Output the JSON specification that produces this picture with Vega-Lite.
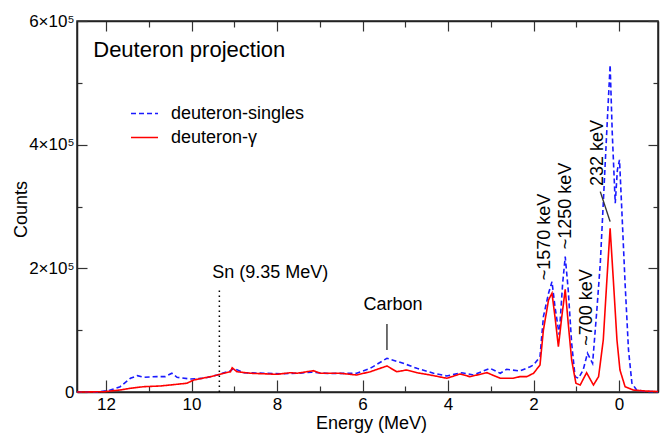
{
  "$schema": "https://vega.github.io/schema/vega-lite/v6.json",
  "width": 581,
  "height": 371,
  "autosize": {"type": "none"},
  "padding": {"left": 77, "top": 21, "right": 2, "bottom": 42},
  "background": "white",
  "config": {
    "view": {"stroke": "#222", "strokeWidth": 1.5},
    "font": "Liberation Sans",
    "axis": {"domainColor": "#222", "domainWidth": 1.5, "tickColor": "#333", "tickWidth": 1.2, "grid": false,
      "labelFont": "Liberation Sans", "labelFontSize": 17, "labelColor": "#000",
      "titleFont": "Liberation Sans", "titleFontSize": 18, "titleFontWeight": "normal", "titleColor": "#000"}
  },
  "datasets": {
    "spec": [
      {"E": 12.68, "c": 0, "s": "deuteron-singles"},
      {"E": 12.21, "c": 0, "s": "deuteron-singles"},
      {"E": 11.90, "c": 3200, "s": "deuteron-singles"},
      {"E": 11.67, "c": 8600, "s": "deuteron-singles"},
      {"E": 11.43, "c": 22200, "s": "deuteron-singles"},
      {"E": 11.27, "c": 26400, "s": "deuteron-singles"},
      {"E": 11.12, "c": 23800, "s": "deuteron-singles"},
      {"E": 10.95, "c": 24500, "s": "deuteron-singles"},
      {"E": 10.81, "c": 24800, "s": "deuteron-singles"},
      {"E": 10.62, "c": 24800, "s": "deuteron-singles"},
      {"E": 10.46, "c": 30300, "s": "deuteron-singles"},
      {"E": 10.34, "c": 23800, "s": "deuteron-singles"},
      {"E": 10.03, "c": 21000, "s": "deuteron-singles"},
      {"E": 9.71, "c": 22200, "s": "deuteron-singles"},
      {"E": 9.40, "c": 27500, "s": "deuteron-singles"},
      {"E": 9.09, "c": 34500, "s": "deuteron-singles"},
      {"E": 9.01, "c": 38300, "s": "deuteron-singles"},
      {"E": 8.78, "c": 31200, "s": "deuteron-singles"},
      {"E": 8.31, "c": 30300, "s": "deuteron-singles"},
      {"E": 7.90, "c": 29500, "s": "deuteron-singles"},
      {"E": 7.53, "c": 30300, "s": "deuteron-singles"},
      {"E": 7.20, "c": 32000, "s": "deuteron-singles"},
      {"E": 6.80, "c": 30000, "s": "deuteron-singles"},
      {"E": 6.14, "c": 30300, "s": "deuteron-singles"},
      {"E": 5.82, "c": 38300, "s": "deuteron-singles"},
      {"E": 5.43, "c": 54500, "s": "deuteron-singles"},
      {"E": 5.05, "c": 46400, "s": "deuteron-singles"},
      {"E": 4.73, "c": 38300, "s": "deuteron-singles"},
      {"E": 4.34, "c": 30300, "s": "deuteron-singles"},
      {"E": 4.03, "c": 25900, "s": "deuteron-singles"},
      {"E": 3.68, "c": 31200, "s": "deuteron-singles"},
      {"E": 3.41, "c": 27500, "s": "deuteron-singles"},
      {"E": 3.02, "c": 38300, "s": "deuteron-singles"},
      {"E": 2.78, "c": 30300, "s": "deuteron-singles"},
      {"E": 2.63, "c": 36700, "s": "deuteron-singles"},
      {"E": 2.32, "c": 34000, "s": "deuteron-singles"},
      {"E": 2.08, "c": 40900, "s": "deuteron-singles"},
      {"E": 2.00, "c": 43700, "s": "deuteron-singles"},
      {"E": 1.85, "c": 57100, "s": "deuteron-singles"},
      {"E": 1.77, "c": 121800, "s": "deuteron-singles"},
      {"E": 1.65, "c": 159700, "s": "deuteron-singles"},
      {"E": 1.57, "c": 178500, "s": "deuteron-singles"},
      {"E": 1.50, "c": 138000, "s": "deuteron-singles"},
      {"E": 1.40, "c": 92200, "s": "deuteron-singles"},
      {"E": 1.32, "c": 175900, "s": "deuteron-singles"},
      {"E": 1.26, "c": 218900, "s": "deuteron-singles"},
      {"E": 1.19, "c": 165000, "s": "deuteron-singles"},
      {"E": 1.11, "c": 79300, "s": "deuteron-singles"},
      {"E": 1.03, "c": 24800, "s": "deuteron-singles"},
      {"E": 0.95, "c": 22200, "s": "deuteron-singles"},
      {"E": 0.84, "c": 35600, "s": "deuteron-singles"},
      {"E": 0.74, "c": 62600, "s": "deuteron-singles"},
      {"E": 0.62, "c": 46400, "s": "deuteron-singles"},
      {"E": 0.52, "c": 132700, "s": "deuteron-singles"},
      {"E": 0.44, "c": 208200, "s": "deuteron-singles"},
      {"E": 0.37, "c": 305300, "s": "deuteron-singles"},
      {"E": 0.29, "c": 419100, "s": "deuteron-singles"},
      {"E": 0.21, "c": 529100, "s": "deuteron-singles"},
      {"E": 0.16, "c": 419100, "s": "deuteron-singles"},
      {"E": 0.09, "c": 305300, "s": "deuteron-singles"},
      {"E": 0.04, "c": 359200, "s": "deuteron-singles"},
      {"E": -0.01, "c": 375400, "s": "deuteron-singles"},
      {"E": -0.06, "c": 299800, "s": "deuteron-singles"},
      {"E": -0.14, "c": 175900, "s": "deuteron-singles"},
      {"E": -0.22, "c": 68000, "s": "deuteron-singles"},
      {"E": -0.30, "c": 14100, "s": "deuteron-singles"},
      {"E": -0.41, "c": 3200, "s": "deuteron-singles"},
      {"E": -0.61, "c": 800, "s": "deuteron-singles"},
      {"E": -0.91, "c": 500, "s": "deuteron-singles"},
      {"E": 12.68, "c": 0, "s": "deuteron-γ"},
      {"E": 12.52, "c": 0, "s": "deuteron-γ"},
      {"E": 12.05, "c": 500, "s": "deuteron-γ"},
      {"E": 11.67, "c": 3200, "s": "deuteron-γ"},
      {"E": 11.43, "c": 6000, "s": "deuteron-γ"},
      {"E": 11.12, "c": 8600, "s": "deuteron-γ"},
      {"E": 10.73, "c": 9700, "s": "deuteron-γ"},
      {"E": 10.34, "c": 12500, "s": "deuteron-γ"},
      {"E": 10.11, "c": 14100, "s": "deuteron-γ"},
      {"E": 9.95, "c": 19400, "s": "deuteron-γ"},
      {"E": 9.56, "c": 24800, "s": "deuteron-γ"},
      {"E": 9.25, "c": 30300, "s": "deuteron-γ"},
      {"E": 9.09, "c": 32800, "s": "deuteron-γ"},
      {"E": 9.05, "c": 39300, "s": "deuteron-γ"},
      {"E": 8.94, "c": 32800, "s": "deuteron-γ"},
      {"E": 8.62, "c": 30300, "s": "deuteron-γ"},
      {"E": 8.00, "c": 28600, "s": "deuteron-γ"},
      {"E": 7.69, "c": 31200, "s": "deuteron-γ"},
      {"E": 7.53, "c": 30300, "s": "deuteron-γ"},
      {"E": 7.15, "c": 34500, "s": "deuteron-γ"},
      {"E": 6.99, "c": 30300, "s": "deuteron-γ"},
      {"E": 6.53, "c": 30300, "s": "deuteron-γ"},
      {"E": 6.14, "c": 27500, "s": "deuteron-γ"},
      {"E": 5.82, "c": 32800, "s": "deuteron-γ"},
      {"E": 5.43, "c": 42100, "s": "deuteron-γ"},
      {"E": 5.20, "c": 32800, "s": "deuteron-γ"},
      {"E": 4.97, "c": 35600, "s": "deuteron-γ"},
      {"E": 4.73, "c": 31200, "s": "deuteron-γ"},
      {"E": 4.42, "c": 27500, "s": "deuteron-γ"},
      {"E": 4.03, "c": 22200, "s": "deuteron-γ"},
      {"E": 3.72, "c": 29100, "s": "deuteron-γ"},
      {"E": 3.49, "c": 24800, "s": "deuteron-γ"},
      {"E": 3.09, "c": 31200, "s": "deuteron-γ"},
      {"E": 2.78, "c": 22200, "s": "deuteron-γ"},
      {"E": 2.48, "c": 22200, "s": "deuteron-γ"},
      {"E": 2.32, "c": 24800, "s": "deuteron-γ"},
      {"E": 2.16, "c": 24800, "s": "deuteron-γ"},
      {"E": 2.00, "c": 30300, "s": "deuteron-γ"},
      {"E": 1.85, "c": 43700, "s": "deuteron-γ"},
      {"E": 1.77, "c": 100300, "s": "deuteron-γ"},
      {"E": 1.65, "c": 148900, "s": "deuteron-γ"},
      {"E": 1.57, "c": 159700, "s": "deuteron-γ"},
      {"E": 1.50, "c": 121800, "s": "deuteron-γ"},
      {"E": 1.42, "c": 73300, "s": "deuteron-γ"},
      {"E": 1.34, "c": 121800, "s": "deuteron-γ"},
      {"E": 1.26, "c": 166200, "s": "deuteron-γ"},
      {"E": 1.19, "c": 111200, "s": "deuteron-γ"},
      {"E": 1.11, "c": 51800, "s": "deuteron-γ"},
      {"E": 1.01, "c": 14100, "s": "deuteron-γ"},
      {"E": 0.91, "c": 11300, "s": "deuteron-γ"},
      {"E": 0.76, "c": 31200, "s": "deuteron-γ"},
      {"E": 0.60, "c": 11300, "s": "deuteron-γ"},
      {"E": 0.48, "c": 24800, "s": "deuteron-γ"},
      {"E": 0.40, "c": 68000, "s": "deuteron-γ"},
      {"E": 0.37, "c": 84100, "s": "deuteron-γ"},
      {"E": 0.29, "c": 176400, "s": "deuteron-γ"},
      {"E": 0.21, "c": 264900, "s": "deuteron-γ"},
      {"E": 0.13, "c": 175900, "s": "deuteron-γ"},
      {"E": 0.05, "c": 84100, "s": "deuteron-γ"},
      {"E": -0.02, "c": 35600, "s": "deuteron-γ"},
      {"E": -0.14, "c": 8600, "s": "deuteron-γ"},
      {"E": -0.33, "c": 3200, "s": "deuteron-γ"},
      {"E": -0.61, "c": 1600, "s": "deuteron-γ"},
      {"E": -0.91, "c": 800, "s": "deuteron-γ"}
    ],
    "rules": [
      {"k": "sn", "E": 9.35, "E2": 9.35, "c": 0, "c2": 170000},
      {"k": "carbon", "E": 5.43, "E2": 5.43, "c": 68000, "c2": 110000},
      {"k": "232", "E": 0.44, "E2": 0.21, "c": 324100, "c2": 275500}
    ],
    "title": [{"E": 12.30, "c": 553400, "t": "Deuteron projection"}],
    "labels": [
      {"E": 8.16, "c": 192000, "t": "Sn (9.35 MeV)"},
      {"E": 5.29, "c": 140000, "t": "Carbon"}
    ],
    "rot": [
      {"E": 1.73, "c": 250800, "t": "~1570 keV"},
      {"E": 1.24, "c": 300900, "t": "~1250 keV"},
      {"E": 0.76, "c": 136700, "t": "~700 keV"},
      {"E": 0.50, "c": 386700, "t": "232 keV"}
    ]
  },
  "resolve": {"axis": {"x": "independent", "y": "independent"}},
  "layer": [
    {
      "data": {"name": "spec"},
      "mark": {"type": "line", "strokeWidth": 1.6},
      "encoding": {
        "x": {"field": "E", "type": "quantitative",
          "scale": {"domain": [-0.91, 12.68], "reverse": true, "nice": false, "zero": false},
          "axis": {"orient": "bottom", "title": "Energy (MeV)", "values": [0,1,2,3,4,5,6,7,8,9,10,11,12],
            "tickSize": {"condition": {"test": "datum.value % 2 === 0", "value": -12}, "value": -6},
            "labelPadding": 16, "labelExpr": "datum.value % 2 === 0 ? datum.label : ''",
            "titleX": 294, "titleY": 36, "titleBaseline": "alphabetic", "titleAlign": "center"}},
        "y": {"field": "c", "type": "quantitative",
          "scale": {"domain": [0, 600000], "nice": false},
          "axis": {"orient": "left", "title": "Counts", "values": [0,100000,200000,300000,400000,500000,600000],
            "tickSize": {"condition": {"test": "datum.value % 200000 === 0", "value": -10}, "value": -5},
            "labelPadding": 13,
            "labelExpr": "datum.value === 0 ? '0' : (datum.value % 200000 === 0 ? (datum.value / 100000) + '×10⁵' : '')",
            "titleX": -56, "titleY": 188, "titleAngle": 270, "titleBaseline": "middle", "titleAlign": "center"}},
        "color": {"field": "s", "type": "nominal",
          "scale": {"domain": ["deuteron-singles", "deuteron-γ"], "range": ["#1a1aff", "#ff0000"]},
          "legend": {"orient": "none", "legendX": 53, "legendY": 78, "title": null, "symbolType": "stroke",
            "symbolSize": 729, "symbolStrokeWidth": 1.6, "labelFontSize": 18, "labelFont": "Liberation Sans",
            "labelOffset": 12, "rowPadding": 0, "labelColor": "#000"}},
        "strokeDash": {"field": "s", "type": "nominal",
          "scale": {"domain": ["deuteron-singles", "deuteron-γ"], "range": [[5, 3], [1, 0]]},
          "legend": {"orient": "none", "legendX": 53, "legendY": 78, "title": null, "symbolType": "stroke",
            "symbolSize": 729, "symbolStrokeWidth": 1.6, "labelFontSize": 18, "labelFont": "Liberation Sans",
            "labelOffset": 12, "rowPadding": 0, "labelColor": "#000"}}
      }
    },
    {
      "data": {"name": "rules"},
      "transform": [{"filter": "datum.k === 'sn'"}],
      "mark": {"type": "rule", "color": "#000", "strokeWidth": 1.5, "strokeDash": [1.5, 3.5]},
      "encoding": {
        "x": {"field": "E", "type": "quantitative",
          "axis": {"orient": "top", "title": null, "values": [0,1,2,3,4,5,6,7,8,9,10,11,12], "labels": false,
            "tickSize": {"condition": {"test": "datum.value % 2 === 0", "value": -10}, "value": -6}}},
        "x2": {"field": "E2"},
        "y": {"field": "c", "type": "quantitative",
          "axis": {"orient": "right", "title": null, "values": [0,100000,200000,300000,400000,500000,600000], "labels": false,
            "tickSize": {"condition": {"test": "datum.value % 200000 === 0", "value": -10}, "value": -5}}},
        "y2": {"field": "c2"}
      }
    },
    {
      "data": {"name": "rules"},
      "transform": [{"filter": "datum.k !== 'sn'"}],
      "mark": {"type": "rule", "color": "#333", "strokeWidth": 1.4},
      "encoding": {
        "x": {"field": "E", "type": "quantitative", "axis": null},
        "x2": {"field": "E2"},
        "y": {"field": "c", "type": "quantitative", "axis": null},
        "y2": {"field": "c2"}
      }
    },
    {
      "data": {"name": "title"},
      "mark": {"type": "text", "align": "left", "baseline": "middle", "fontSize": 22, "font": "Liberation Sans", "color": "#000"},
      "encoding": {
        "x": {"field": "E", "type": "quantitative", "axis": null},
        "y": {"field": "c", "type": "quantitative", "axis": null},
        "text": {"field": "t"}
      }
    },
    {
      "data": {"name": "labels"},
      "mark": {"type": "text", "align": "center", "baseline": "middle", "fontSize": 18, "font": "Liberation Sans", "color": "#000"},
      "encoding": {
        "x": {"field": "E", "type": "quantitative", "axis": null},
        "y": {"field": "c", "type": "quantitative", "axis": null},
        "text": {"field": "t"}
      }
    },
    {
      "data": {"name": "rot"},
      "mark": {"type": "text", "align": "center", "baseline": "middle", "angle": 270, "fontSize": 18, "font": "Liberation Sans", "color": "#000"},
      "encoding": {
        "x": {"field": "E", "type": "quantitative", "axis": null},
        "y": {"field": "c", "type": "quantitative", "axis": null},
        "text": {"field": "t"}
      }
    }
  ]
}
